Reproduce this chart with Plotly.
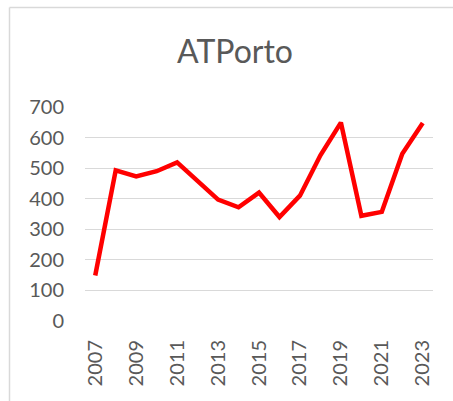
import plotly.graph_objects as go

years = [str(y) for y in range(2007, 2024)]
values = [149, 493, 473, 490, 519, 460, 397, 372, 420, 340, 410, 542, 649, 344, 357, 547, 648]
y_ticks = [0, 100, 200, 300, 400, 500, 600, 700]
x_tick_labels = years[::2]

W, H = 453, 401
L, R, T, B = 85, 20, 107, 80
pw, ph = W - L - R, H - T - B

def px(x):
    return (x - L) / pw

def py(y):
    return (H - B - y) / ph

fig = go.Figure()
fig.add_trace(go.Scatter(
    x=years, y=values, mode="lines",
    line=dict(color="#ff0000", width=4.5),
    hoverinfo="x+y",
))

fig.update_layout(
    width=W, height=H,
    margin=dict(l=L, r=R, t=T, b=B, autoexpand=False),
    paper_bgcolor="white", plot_bgcolor="white",
    showlegend=False,
    font=dict(family="Lato, Carlito, Calibri, sans-serif", color="#595959"),
    title=dict(text="ATPorto", x=235 / W, xanchor="center", y=1 - 52 / H, yanchor="middle",
               font=dict(size=32, color="#595959")),
    xaxis=dict(
        type="category", range=[-0.5, len(years) - 0.5],
        tickmode="array", tickvals=x_tick_labels, ticktext=x_tick_labels,
        tickangle=-90, tickfont=dict(size=20, color="#595959"),
        showgrid=False, zeroline=False, showline=False, ticks="", ticklabelstandoff=14,
        automargin=False,
    ),
    yaxis=dict(
        range=[0, 700], tickvals=y_ticks, tickfont=dict(size=20, color="#595959"),
        showgrid=True, gridcolor="#d9d9d9", gridwidth=1, zeroline=False, showline=False,
        ticks="", ticklabelstandoff=20, automargin=False,
    ),
    shapes=[
        dict(type="line", xref="paper", yref="paper", x0=px(9.5), x1=px(460), y0=py(7.5), y1=py(7.5),
             line=dict(color="#d9d9d9", width=1.5)),
        dict(type="line", xref="paper", yref="paper", x0=px(9.5), x1=px(9.5), y0=py(7.5), y1=py(405),
             line=dict(color="#d9d9d9", width=1.5)),
    ],
)

fig.write_html(
    "out.html",
    config={"displayModeBar": False},
    post_script="document.body.style.margin='0';document.body.style.overflow='hidden';",
)
